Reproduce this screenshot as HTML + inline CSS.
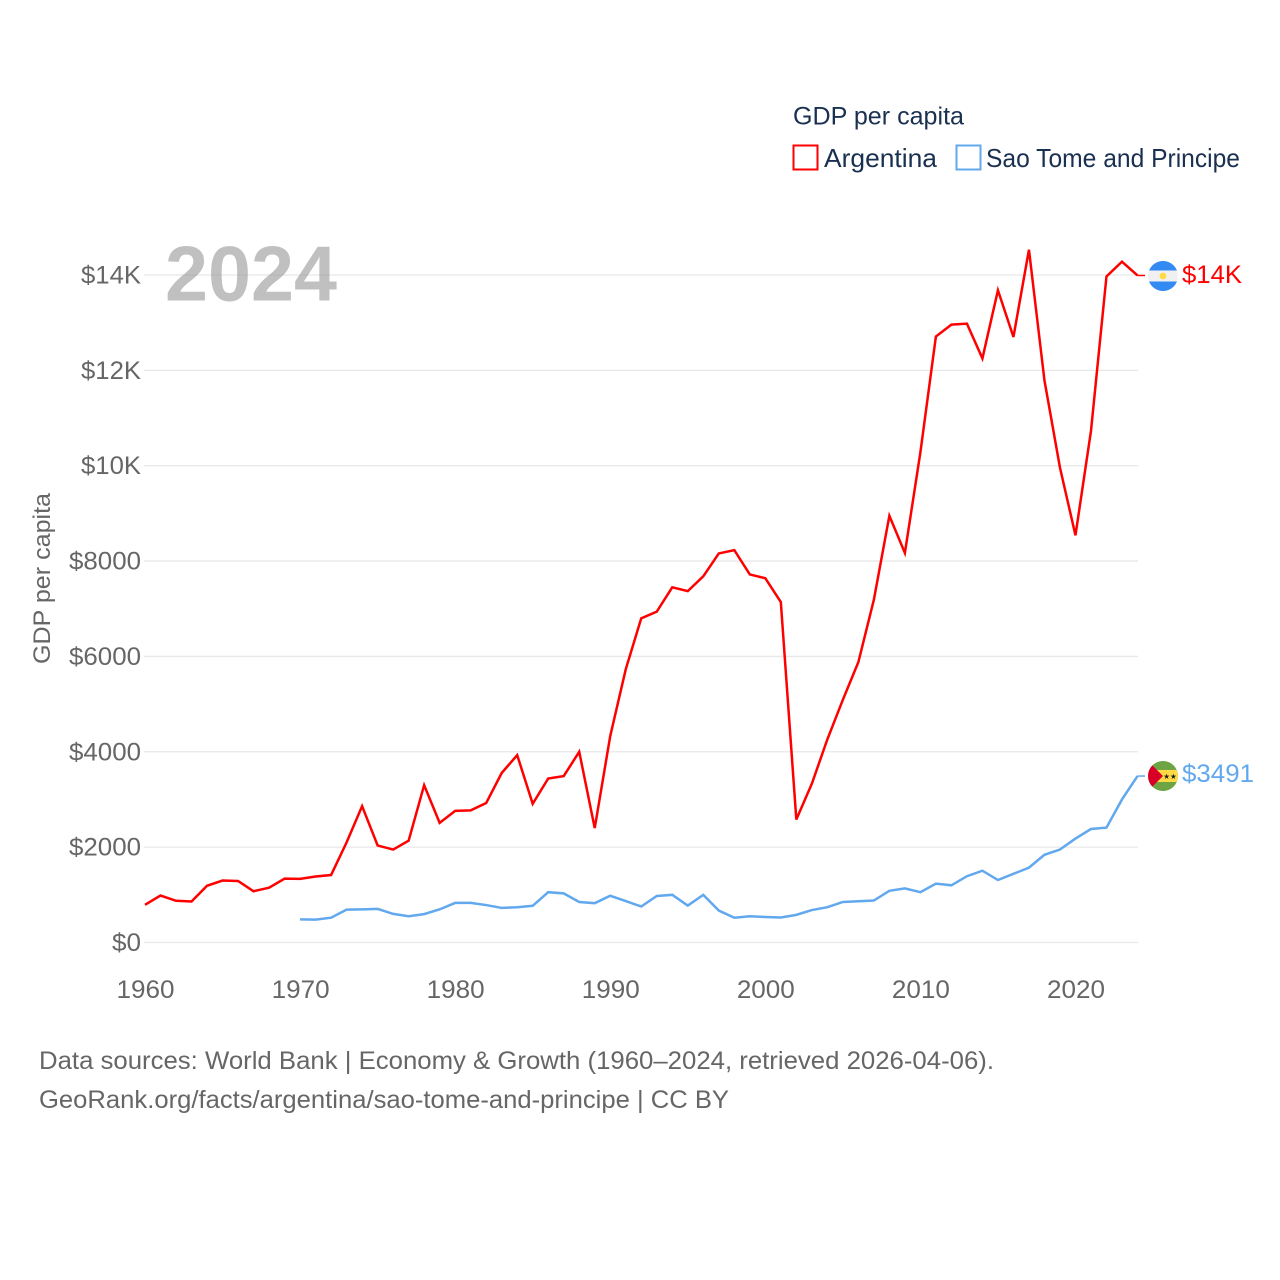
<!DOCTYPE html>
<html lang="en">
<head>
<meta charset="utf-8">
<title>GDP per capita: Argentina and Sao Tome and Principe</title>
<style>
html,body{margin:0;padding:0;background:#fff;width:1280px;height:1280px;overflow:hidden}
svg{display:block}
text{font-family:"Liberation Sans",sans-serif}
</style>
</head>
<body>
<svg id="chart" width="1280" height="1280" viewBox="0 0 1280 1280" xmlns="http://www.w3.org/2000/svg">
  <g id="grid"></g>
  <text x="165" y="300.5" font-size="78" font-weight="700" fill="#999" fill-opacity="0.62" textLength="172" lengthAdjust="spacingAndGlyphs">2024</text>
  <g id="yTicks"></g>
  <g id="xTicks"></g>
  <text transform="translate(50 578.5) rotate(-90)" text-anchor="middle" font-size="24" fill="#666" textLength="171" lengthAdjust="spacingAndGlyphs">GDP per capita</text>
  <g id="series"></g>

  <g>
    <text x="793" y="124.5" font-size="25" fill="#1a3050" textLength="171" lengthAdjust="spacingAndGlyphs">GDP per capita</text>
    <rect x="793.5" y="145.5" width="24" height="24" fill="#fff" stroke="#ff0000" stroke-width="2"/>
    <text x="824" y="167" font-size="26" fill="#1a3050" textLength="113" lengthAdjust="spacingAndGlyphs">Argentina</text>
    <rect x="956.5" y="145.5" width="24" height="24" fill="#fff" stroke="#62a8ee" stroke-width="2"/>
    <text x="986" y="167" font-size="26" fill="#1a3050" textLength="254" lengthAdjust="spacingAndGlyphs">Sao Tome and Principe</text>
  </g>

  <defs>
    <clipPath id="flagClipA"><circle cx="1163" cy="276" r="15"/></clipPath>
    <clipPath id="flagClipS"><circle cx="1163" cy="776" r="15"/></clipPath>
  </defs>
  <g clip-path="url(#flagClipA)">
    <rect x="1148" y="261" width="30" height="30" fill="#f0f0f0"/>
    <rect x="1148" y="261" width="30" height="9.5" fill="#338af3"/>
    <rect x="1148" y="281.5" width="30" height="9.5" fill="#338af3"/>
    <circle cx="1163" cy="276" r="3.4" fill="#ffda44"/>
  </g>
  <text x="1182" y="283" font-size="25" fill="#ff0000" textLength="60" lengthAdjust="spacingAndGlyphs">$14K</text>

  <g clip-path="url(#flagClipS)">
    <rect x="1148" y="761" width="30" height="30" fill="#6da544"/>
    <rect x="1148" y="770" width="30" height="12" fill="#ffda44"/>
    <polygon points="1148,761 1163,776 1148,791" fill="#d80027"/>
    <text x="1170" y="779" text-anchor="middle" font-size="7.5" fill="#222" style='font-family:"DejaVu Sans",sans-serif'>★★</text>
  </g>
  <text x="1182" y="782" font-size="25" fill="#62a8ee" textLength="72" lengthAdjust="spacingAndGlyphs">$3491</text>

  <text x="39" y="1069" font-size="25" fill="#666" textLength="955" lengthAdjust="spacingAndGlyphs">Data sources: World Bank | Economy &amp; Growth (1960–2024, retrieved 2026-04-06).</text>
  <text x="39" y="1108" font-size="25" fill="#666" textLength="690" lengthAdjust="spacingAndGlyphs">GeoRank.org/facts/argentina/sao-tome-and-principe | CC BY</text>
</svg>
<script>
const argentinaYears = [1960,1961,1962,1963,1964,1965,1966,1967,1968,1969,1970,1971,1972,1973,1974,1975,1976,1977,1978,1979,1980,1981,1982,1983,1984,1985,1986,1987,1988,1989,1990,1991,1992,1993,1994,1995,1996,1997,1998,1999,2000,2001,2002,2003,2004,2005,2006,2007,2008,2009,2010,2011,2012,2013,2014,2015,2016,2017,2018,2019,2020,2021,2022,2023,2024];
const argentinaValues = [790,985,875,860,1190,1300,1290,1075,1150,1340,1335,1385,1415,2100,2860,2035,1950,2135,3300,2510,2760,2770,2925,3555,3930,2910,3440,3490,4000,2400,4330,5730,6800,6940,7450,7370,7680,8160,8230,7720,7640,7140,2580,3330,4260,5090,5880,7190,8950,8170,10280,12710,12960,12980,12250,13680,12700,14530,11790,9960,8540,10730,13970,14280,13990];
const saoTomeYears = [1970,1971,1972,1973,1974,1975,1976,1977,1978,1979,1980,1981,1982,1983,1984,1985,1986,1987,1988,1989,1990,1991,1992,1993,1994,1995,1996,1997,1998,1999,2000,2001,2002,2003,2004,2005,2006,2007,2008,2009,2010,2011,2012,2013,2014,2015,2016,2017,2018,2019,2020,2021,2022,2023,2024];
const saoTomeValues = [485,480,520,690,695,705,600,550,595,695,830,830,785,725,740,770,1055,1030,850,825,980,870,755,975,1000,775,1000,670,520,550,535,525,580,680,740,850,865,880,1085,1135,1055,1235,1200,1390,1505,1310,1440,1570,1840,1950,2180,2380,2410,3000,3491];
const yTickValues = [0,2000,4000,6000,8000,10000,12000,14000];
const yTickLabels = ["$0","$2000","$4000","$6000","$8000","$10K","$12K","$14K"];
const xTickValues = [1960,1970,1980,1990,2000,2010,2020];
const xTickLabels = ["1960","1970","1980","1990","2000","2010","2020"];

const NS = "http://www.w3.org/2000/svg";
const xOf = function (year) { return 145 + (year - 1960) * (1137.5 - 145) / 64; };
const yOf = function (value) { return 942.5 - value * (942.5 - 275) / 14000; };

const gridGroup = document.getElementById("grid");
const yGroup = document.getElementById("yTicks");
const xGroup = document.getElementById("xTicks");
const seriesGroup = document.getElementById("series");

yTickValues.forEach(function (v, i) {
  const line = document.createElementNS(NS, "line");
  
  
  line.setAttribute("x1", 144);
  line.setAttribute("x2", 1138);
  line.setAttribute("y1", yOf(v));
  line.setAttribute("y2", yOf(v));
  line.setAttribute("stroke", "#e8e8e8");
  line.setAttribute("stroke-width", 1.3);
  gridGroup.appendChild(line);

  const t = document.createElementNS(NS, "text");
  
  
  t.setAttribute("x", 141);
  t.setAttribute("y", yOf(v) + 8.5);
  t.setAttribute("text-anchor", "end");
  t.setAttribute("font-size", 25);
  t.setAttribute("fill", "#666");
  t.setAttribute("textLength", yTickLabels[i].length === 2 ? 29 : yTickLabels[i].length === 4 ? 60 : 72);
  t.setAttribute("lengthAdjust", "spacingAndGlyphs");
  t.textContent = yTickLabels[i];
  yGroup.appendChild(t);
});

xTickValues.forEach(function (v, i) {
  const t = document.createElementNS(NS, "text");
  
  
  t.setAttribute("x", xOf(v) + 0.5);
  t.setAttribute("y", 998);
  t.setAttribute("text-anchor", "middle");
  t.setAttribute("font-size", 25);
  t.setAttribute("fill", "#666");
  t.setAttribute("textLength", 58);
  t.setAttribute("lengthAdjust", "spacingAndGlyphs");
  t.textContent = xTickLabels[i];
  xGroup.appendChild(t);
});

function pointsFor(years, values) {
  return years.map(function (y, i) { return xOf(y).toFixed(2) + "," + yOf(values[i]).toFixed(2); }).join(" ");
}

const lineA = document.createElementNS(NS, "polyline");


lineA.setAttribute("points", pointsFor(argentinaYears, argentinaValues));
lineA.setAttribute("fill", "none");
lineA.setAttribute("stroke", "#ff0000");
lineA.setAttribute("stroke-width", 2.5);
lineA.setAttribute("stroke-linejoin", "miter");
seriesGroup.appendChild(lineA);

const lineS = document.createElementNS(NS, "polyline");


lineS.setAttribute("points", pointsFor(saoTomeYears, saoTomeValues));
lineS.setAttribute("fill", "none");
lineS.setAttribute("stroke", "#62a8ee");
lineS.setAttribute("stroke-width", 2.5);
seriesGroup.appendChild(lineS);

const connA = document.createElementNS(NS, "line");


connA.setAttribute("x1", xOf(2024));
connA.setAttribute("x2", 1145);
connA.setAttribute("y1", yOf(argentinaValues[argentinaValues.length - 1]));
connA.setAttribute("y2", yOf(argentinaValues[argentinaValues.length - 1]));
connA.setAttribute("stroke", "#ff0000");
connA.setAttribute("stroke-width", 1.5);
seriesGroup.appendChild(connA);

const connS = document.createElementNS(NS, "line");


connS.setAttribute("x1", xOf(2024));
connS.setAttribute("x2", 1145);
connS.setAttribute("y1", yOf(saoTomeValues[saoTomeValues.length - 1]));
connS.setAttribute("y2", yOf(saoTomeValues[saoTomeValues.length - 1]));
connS.setAttribute("stroke", "#62a8ee");
connS.setAttribute("stroke-width", 1.5);
seriesGroup.appendChild(connS);
</script>
</body>
</html>
